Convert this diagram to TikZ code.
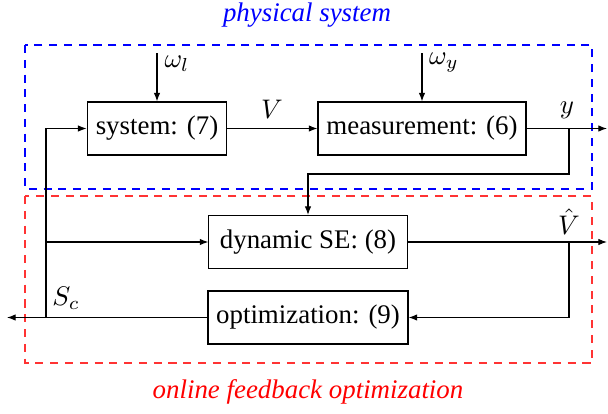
\documentclass[tikz,border=0pt]{standalone}
\usepackage{fontspec}
\setmainfont{Liberation Serif}
\usetikzlibrary{arrows.meta,calc}
\begin{document}
\begin{tikzpicture}[x=0.372pt,y=-0.372pt,
  blk/.style={draw,line width=0.4pt,minimum height=19.7pt,inner sep=0pt,font=\fontsize{10}{12}\selectfont},
  conn/.style={line width=0.4pt,-{Latex[length=3.2pt,width=2.4pt]}},
  wire/.style={line width=0.4pt},
  lbl/.style={inner sep=0pt,font=\fontsize{10}{12}\selectfont},
  frame/.style={line width=0.4pt,dash pattern=on 3pt off 2.5pt}]
\useasboundingbox (0,0) rectangle (608,414);
% frames
\draw[frame,blue] (25,45) rectangle (592,189);
\draw[frame,red!80] (25,196) rectangle (592,363);
\node[lbl,blue] (t1) at (307,15) {\itshape physical system};
\node[lbl,red] (t2) at (308,392) {\itshape online feedback optimization};
% blocks
\node[blk,minimum width=52pt] (sys) at (157,128.5) {system: (7)};
\node[blk,minimum width=77.4pt] (meas) at (422,128.5) {measurement: (6)};
\node[blk,minimum width=73.7pt] (dse) at (308,242) {dynamic SE: (8)};
\node[blk,minimum width=74.4pt] (opt) at (308,317.5) {optimization: (9)};
% coordinates
\coordinate (wl) at (157,53);
\coordinate (wy) at (422,53);
\coordinate (yb) at (569,128.5);
\coordinate (yout) at (607,128.5);
\coordinate (ybend) at (308,174);
\coordinate (vb) at (569,242);
\coordinate (vout) at (607,242);
\coordinate (sb) at (46,317.5);
\coordinate (sout) at (7,317.5);
\coordinate (sd) at (46,242);
% connectors
\draw[conn] (wl) -- (sys.north);
\draw[conn] (wy) -- (meas.north);
\draw[conn] (sys.east) -- (meas.west);
\draw[conn] (meas.east) -- (yout);
\draw[conn] (yb) |- (ybend) -- (dse.north);
\draw[conn] (dse.east) -- (vout);
\draw[conn] (vb) |- (opt.east);
\draw[conn] (opt.west) -- (sout);
\draw[conn] (sb) |- (sys.west);
\draw[conn] (sd) -- (dse.west);
% labels
\node[lbl] (lwl) at (177,64) {$\omega_l$};
\node[lbl] (lwy) at (444,63) {$\omega_y$};
\node[lbl] (lV) at (272,109) {$V$};
\node[lbl] (ly) at (567,110) {$y$};
\node[lbl] (lVh) at (569,222) {$\hat{V}$};
\node[lbl] (lSc) at (66,298) {$S_c$};
\end{tikzpicture}
\end{document}
